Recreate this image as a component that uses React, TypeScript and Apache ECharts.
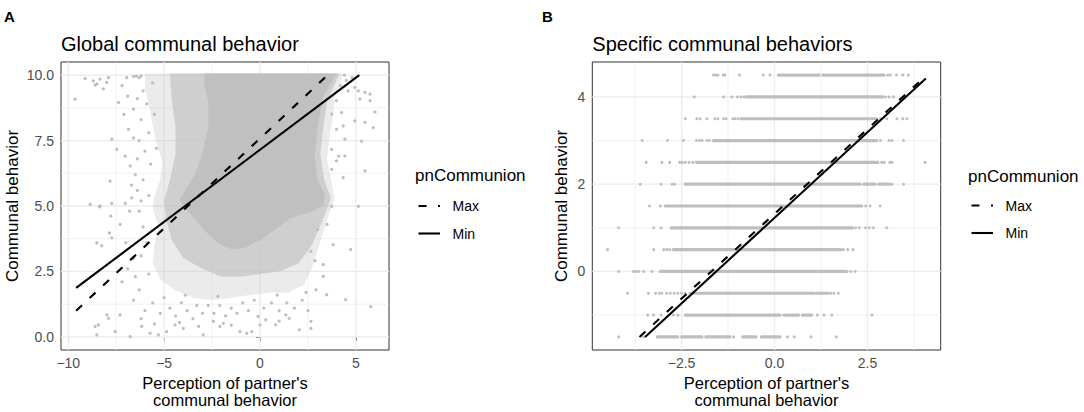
import React, { useEffect, useRef } from 'react';
import * as echarts from 'echarts';

const FONT = "'Liberation Sans', Arial, Helvetica, sans-serif";
const POINT = '#BEBEBE';

// ---------- Panel A: Global communal behavior ----------
const aXRange = [-10.38, 6.73];
const aYRange = [-0.5, 10.5];
const aXTicks = [-10, -5, 0, 5];
const aXMinor = [-7.5, -2.5, 2.5];
const aYTicks = [0, 2.5, 5, 7.5, 10];
const aYMinor = [1.25, 3.75, 6.25, 8.75];

const aLineMax = [[-9.59, 1.0], [3.53, 10.0]];
const aLineMin = [[-9.59, 1.87], [5.18, 10.0]];

// dense (solid) core of the point cloud
const aCore = [
  [-2.9, 10.06], [4.0, 10.06], [3.7, 9.7], [3.3, 9.2], [3.05, 8.2], [2.85, 7.0], [3.0, 6.0],
  [3.4, 5.4], [3.3, 5.0], [2.6, 4.75], [1.6, 4.55], [0.8, 4.1], [0.0, 3.7], [-0.8, 3.4],
  [-1.5, 3.35], [-2.2, 3.6], [-2.8, 4.0], [-3.4, 4.5], [-3.9, 4.9], [-4.2, 5.25], [-3.9, 5.6],
  [-3.4, 6.2], [-3.0, 7.0], [-2.7, 8.0], [-2.7, 9.0], [-2.9, 9.6],
];
// thick stipple next to the core
const aInner = [
  [-4.7, 10.06], [4.15, 10.06], [3.5, 9.0], [3.3, 8.0], [3.15, 7.0], [3.35, 6.0], [3.7, 5.3],
  [3.3, 4.5], [2.7, 3.5], [2.0, 2.8], [1.0, 2.5], [0.0, 2.4], [-1.0, 2.3], [-2.0, 2.3],
  [-3.0, 2.6], [-4.0, 3.0], [-4.6, 3.7], [-4.9, 4.5], [-5.0, 5.2], [-4.7, 6.0], [-4.4, 7.0],
  [-4.4, 8.0], [-4.6, 9.0],
];
// thin stipple at the edge of the cloud
const aOuter = [
  [-6.0, 10.06], [4.3, 10.06], [4.2, 9.6], [3.9, 9.2], [3.8, 8.4], [3.6, 7.5], [3.5, 6.8],
  [3.7, 6.0], [3.9, 5.3], [3.6, 4.7], [3.3, 4.0], [3.0, 3.3], [2.7, 2.6], [2.3, 2.0], [1.5, 1.7],
  [0.5, 1.7], [-0.5, 1.6], [-1.5, 1.5], [-2.5, 1.4], [-3.5, 1.5], [-4.5, 1.8], [-5.2, 2.2],
  [-5.6, 2.8], [-5.5, 3.5], [-5.3, 4.2], [-5.6, 4.9], [-5.5, 5.4], [-5.2, 6.0], [-5.1, 6.7],
  [-5.4, 7.4], [-5.6, 8.1], [-5.8, 8.9], [-6.0, 9.5],
];
// individual points outside the dense cloud
const aPoints = [
  [-9.65, 9.08], [-9.12, 9.87], [-8.69, 9.78], [-8.6, 9.62], [-8.51, 9.66], [-8.34, 9.85], [-8.17, 9.47],
  [-8.0, 9.72], [-7.9, 9.9], [-7.38, 8.95], [-7.73, 7.55], [-7.47, 7.16], [-7.82, 5.95], [-7.03, 6.9],
  [-6.77, 6.53], [-6.86, 7.93], [-7.1, 8.5], [-6.9, 9.2], [-7.2, 9.6], [-6.95, 9.9], [-6.6, 8.7],
  [-6.6, 7.6], [-6.5, 6.2], [-6.7, 5.8], [-8.86, 5.06], [-8.34, 5.0], [-7.73, 5.1], [-7.03, 5.1],
  [-6.69, 5.31], [-6.4, 5.6],
  [-6.3, 9.9], [-6.1, 9.4], [-5.9, 8.9], [-6.2, 8.3], [-5.8, 7.8], [-6.0, 7.1], [-5.7, 6.6],
  [-6.1, 6.0], [-5.8, 5.4], [-6.3, 4.8], [-6.1, 4.2], [-5.9, 3.6], [-6.2, 3.1], [-5.8, 2.4],
  [-5.6, 9.7], [-5.5, 8.5], [-5.4, 7.2], [-6.4, 9.1], [-6.3, 7.5], [-6.4, 6.8], [-6.2, 5.2],
  [-6.6, 9.95], [-6.45, 9.96], [-6.2, 9.97],
  [4.6, 9.4], [4.95, 9.53], [5.13, 9.4], [5.48, 9.34], [5.74, 9.27], [5.74, 9.02], [6.0, 8.59],
  [5.91, 7.99], [5.48, 8.19], [5.3, 7.48], [4.95, 8.25], [4.43, 7.55], [4.34, 8.06], [4.26, 8.57],
  [3.99, 9.02], [5.21, 9.08], [3.74, 8.51], [3.99, 7.93], [3.74, 7.16], [4.43, 6.91], [3.99, 6.72],
  [3.74, 6.4], [4.34, 6.08], [5.48, 6.34], [5.13, 4.99], [3.74, 4.99], [4.1, 6.9], [4.2, 9.6],
  [4.5, 9.8], [4.8, 9.9], [4.4, 10.0],
  [-8.37, 4.97], [-7.78, 4.61], [-8.51, 3.59], [-8.26, 3.49], [-7.85, 3.97], [-7.73, 3.78],
  [-7.3, 4.3], [-7.0, 3.6], [-6.8, 4.8], [-6.6, 3.0], [-6.9, 2.6], [-7.2, 2.1], [-6.5, 2.3],
  [-6.3, 1.8], [-6.6, 1.4], [-8.6, 0.4], [-8.51, 0.08], [-8.43, 0.46], [-7.99, 0.84], [-7.9, 0.71],
  [-7.56, 0.2], [-7.3, 0.84], [-6.77, 0.01], [-6.17, 0.4], [-5.73, 0.14], [-5.3, 0.08], [-4.87, 0.2],
  [-4.43, 0.46], [-4.0, 0.33], [-2.96, 0.08], [-2.43, 0.59], [-2.09, 0.4], [-1.91, 0.52], [-1.04, 0.2],
  [-0.69, 0.14], [-0.43, 0.2], [-0.1, 0.78], [0.0, 0.46], [0.3, 0.65], [0.82, 0.46], [1.35, 0.84],
  [1.52, 0.71], [2.05, 0.27], [2.66, 0.59], [2.66, 0.33], [2.92, 1.8], [3.48, 1.61], [3.3, 2.31],
  [3.3, 2.76], [2.87, 2.91], [2.66, 3.27], [3.82, 3.52], [4.73, 3.33], [4.47, 1.42], [5.78, 1.16],
  [3.0, 4.1], [3.5, 4.3],
  [-6.0, 1.0], [-5.6, 1.3], [-5.2, 0.9], [-5.0, 1.5], [-4.7, 1.1], [-4.4, 0.8], [-4.1, 1.3],
  [-3.8, 1.0], [-3.5, 0.7], [-3.3, 1.2], [-3.0, 0.9], [-2.7, 1.2], [-2.4, 0.9], [-2.1, 1.2],
  [-1.8, 0.8], [-1.5, 1.1], [-1.2, 0.9], [-0.9, 1.3], [-0.6, 1.0], [-0.3, 1.4], [0.2, 1.1],
  [0.6, 1.3], [1.0, 1.0], [1.4, 1.3], [1.8, 1.1], [2.2, 1.4], [2.5, 1.0], [-5.5, 0.5], [-4.2, 0.55],
  [-3.2, 0.4], [-1.5, 0.45], [1.0, 0.6], [-6.2, 0.7], [-3.9, 1.6], [-2.2, 1.55], [0.9, 1.6], [2.4, 1.7],
];

// ---------- Panel B: Specific communal behaviors ----------
const bXRange = [-4.9, 4.47];
const bYRange = [-1.8, 4.8];
const bXTicks = [-2.5, 0, 2.5];
const bXMinor = [-3.75, -1.25, 1.25, 3.75];
const bYTicks = [0, 2, 4];
const bYMinor = [-1, 1, 3];

const bLineMax = [[-3.63, -1.5], [4.03, 4.45]];
const bLineMin = [[-3.48, -1.5], [4.07, 4.42]];

const bRowY = [4.5, 4, 3.5, 3, 2.5, 2, 1.5, 1, 0.5, 0, -0.5, -1, -1.5];
// dense runs of points on each row: [from, to]
const bRowRuns = [
  [[0.1, 1.2], [1.3, 2.95]],
  [[-0.75, 2.9]],
  [[-0.9, 2.75]],
  [[-1.64, 2.75]],
  [[-2.1, 2.78]],
  [[-2.4, 2.3], [2.4, 2.7], [2.8, 3.05]],
  [[-2.94, 2.35]],
  [[-2.78, 2.1]],
  [[-2.72, 1.78]],
  [[-3.07, 1.9]],
  [[-2.27, 1.05], [1.12, 1.45]],
  [[-2.4, 0.15], [0.25, 0.65], [0.75, 1.0]],
  [[-3.15, -2.6], [-2.5, -1.95], [-1.85, -1.2], [-0.85, -0.5], [-0.35, 0.15]],
];
// isolated points on each row
const bRowSparse = [
  [-1.64, -1.58, -1.52, -1.38, -1.33, -0.94, -0.3, -0.12, 3.05, 3.12, 3.28, 3.45, 3.6],
  [-2.16, -1.37, -1.15, -1.0, -0.9, -0.82, 2.98, 3.08, 3.2],
  [-2.4, -2.09, -2.0, -1.82, -1.6, -1.52, -1.37, -1.3, -1.12, -1.06, -0.98, 2.85, 3.02, 3.29, 3.45, 3.56],
  [-3.56, -2.88, -2.45, -2.1, -2.02, -1.95, -1.82, -1.75, 2.85, 3.08, 3.16, 3.47],
  [-3.45, -3.03, -2.82, -2.55, -2.48, -2.4, -2.3, -2.2, 2.88, 2.95, 3.1, 3.16, 4.05],
  [-3.61, -3.05, -2.75, -2.68, 3.1, 3.16, 3.47],
  [-3.36, -3.07, 2.45, 2.57, 2.84],
  [-4.19, -3.25, -3.05, 2.18, 2.28, 2.45, 2.55, 2.66, 3.02],
  [-4.49, -3.25, -2.98, -2.9, -2.82, 1.85, 1.97, 2.11],
  [-4.19, -3.79, -3.72, -3.65, -3.52, -3.3, 1.95, 2.05, 2.17],
  [-3.95, -3.39, -3.2, -3.1, -3.03, -2.9, -2.8, -2.7, -2.6, -2.5, -2.4, 1.52, 1.6, 1.72],
  [-3.41, -3.25, -3.05, -2.72, -2.6, 1.15, 1.33, 1.54, 2.62],
  [-4.19, -3.52, -1.1, -0.7, 0.35, 0.53, 0.98, 1.66],
];

const legendTitle = 'pnCommunion';
const legendNames = ['Max', 'Min'];

const fmt = (d: number) => (v: number) => Number(v).toFixed(d).replace('-', '\u2212');

function xAxisOf(gi: number, range: number[], ticks: number[], dec: number) {
  return {
    type: 'value', gridIndex: gi, min: range[0], max: range[1], position: 'bottom',
    axisLine: { show: false }, splitLine: { show: false },
    axisTick: { show: true, length: 4, customValues: ticks, lineStyle: { color: '#333333', width: 1 } },
    axisLabel: { customValues: ticks, formatter: fmt(dec), margin: 6, color: '#4D4D4D', fontSize: 14, fontFamily: FONT },
  };
}
function yAxisOf(gi: number, range: number[], ticks: number[], dec: number) {
  return {
    type: 'value', gridIndex: gi, min: range[0], max: range[1], position: 'left',
    axisLine: { show: false }, splitLine: { show: false },
    axisTick: { show: true, length: 4, customValues: ticks, lineStyle: { color: '#333333', width: 1 } },
    axisLabel: { customValues: ticks, formatter: fmt(dec), margin: 7, color: '#4D4D4D', fontSize: 14, fontFamily: FONT },
  };
}

function gridLines(idx: number, xMajor: number[], xMinor: number[], yMajor: number[], yMinor: number[]) {
  const data = [
    ...xMajor.map((v) => [0, v, 1]), ...xMinor.map((v) => [0, v, 0]),
    ...yMajor.map((v) => [1, v, 1]), ...yMinor.map((v) => [1, v, 0]),
  ];
  return {
    type: 'custom', xAxisIndex: idx, yAxisIndex: idx, z: 1, silent: true, data,
    renderItem: (params: any, api: any) => {
      const o = api.value(0), v = api.value(1), m = api.value(2);
      const cs = params.coordSys;
      const style = { stroke: '#EBEBEB', lineWidth: m ? 1.3 : 0.7 };
      if (o === 0) {
        const px = api.coord([v, 0])[0];
        return { type: 'line', shape: { x1: px, y1: cs.y, x2: px, y2: cs.y + cs.height }, style };
      }
      const py = api.coord([0, v])[1];
      return { type: 'line', shape: { x1: cs.x, y1: py, x2: cs.x + cs.width, y2: py }, style };
    },
  };
}

function polygonSeries(poly: number[][], fill: string, opacity: number) {
  return {
    type: 'custom', xAxisIndex: 0, yAxisIndex: 0, z: 2, silent: true, data: [[0, 5]],
    renderItem: (_p: any, api: any) => ({
      type: 'polygon',
      shape: { points: poly.map((pt) => api.coord(pt)) },
      style: { fill, opacity },
    }),
  };
}

function regLine(idx: number, data: number[][], dashed: boolean, name: string) {
  return {
    type: 'line', name, xAxisIndex: idx, yAxisIndex: idx, data, symbol: 'none', showSymbol: false,
    silent: true, z: 5,
    lineStyle: { color: '#000000', width: 2.1, type: dashed ? [8, 10.5] : 'solid' },
  };
}

function legendGraphics(x0: number, titleY: number, rowY: number[]) {
  return [
    { type: 'text', x: x0, y: titleY, style: { text: legendTitle, fill: '#000', fontSize: 17, fontFamily: FONT, align: 'left', verticalAlign: 'middle' } },
    { type: 'line', shape: { x1: x0 + 3.5, y1: rowY[0], x2: x0 + 25, y2: rowY[0] }, style: { stroke: '#000', lineWidth: 2.1, lineDash: [8, 11.5] } },
    { type: 'line', shape: { x1: x0 + 3.5, y1: rowY[1], x2: x0 + 25, y2: rowY[1] }, style: { stroke: '#000', lineWidth: 2.1 } },
    { type: 'text', x: x0 + 37.5, y: rowY[0], style: { text: legendNames[0], fill: '#000', fontSize: 14, fontFamily: FONT, align: 'left', verticalAlign: 'middle' } },
    { type: 'text', x: x0 + 37.5, y: rowY[1], style: { text: legendNames[1], fill: '#000', fontSize: 14, fontFamily: FONT, align: 'left', verticalAlign: 'middle' } },
  ];
}

function txt(text: string, x: number, y: number, size: number, extra: any = {}) {
  return {
    type: 'text', x, y, rotation: extra.rotation || 0,
    style: {
      text, fill: '#000', fontSize: size, fontFamily: FONT, fontWeight: extra.bold ? 'bold' : 'normal',
      align: extra.align || 'left', verticalAlign: 'middle', lineHeight: extra.lineHeight,
    },
  };
}

export default function App() {
  const ref = useRef<HTMLDivElement>(null);
  useEffect(() => {
    if (!ref.current) return;
    const chart = echarts.init(ref.current, null, { renderer: 'svg' });

    const bSegData: number[][] = [];
    bRowY.forEach((y, i) => bRowRuns[i].forEach((r) => bSegData.push([r[0], r[1], y])));
    const bPointData: number[][] = [];
    bRowY.forEach((y, i) => bRowSparse[i].forEach((x) => bPointData.push([x, y])));

    const xTitle = "Perception of partner's\ncommunal behavior";

    const option: any = {
      animation: false,
      backgroundColor: '#ffffff',
      textStyle: { fontFamily: FONT },
      grid: [
        { left: 61, top: 62, width: 328, height: 288, show: true, borderColor: '#333333', borderWidth: 1, backgroundColor: '#ffffff', containLabel: false, outerBoundsMode: 'none' },
        { left: 592.3, top: 62, width: 348.4, height: 288, show: true, borderColor: '#333333', borderWidth: 1, backgroundColor: '#ffffff', containLabel: false, outerBoundsMode: 'none' },
      ],
      xAxis: [xAxisOf(0, aXRange, aXTicks, 0), xAxisOf(1, bXRange, bXTicks, 1)],
      yAxis: [yAxisOf(0, aYRange, aYTicks, 1), yAxisOf(1, bYRange, bYTicks, 0)],
      series: [
        gridLines(0, aXTicks, aXMinor, aYTicks, aYMinor),
        polygonSeries(aOuter, POINT, 0.3),
        polygonSeries(aInner, POINT, 0.62),
        polygonSeries(aCore, '#C0C0C0', 1),
        { type: 'scatter', xAxisIndex: 0, yAxisIndex: 0, data: aPoints, symbolSize: 3.2, itemStyle: { color: POINT, opacity: 1 }, z: 3, silent: true },
        regLine(0, aLineMax, true, 'Max'),
        regLine(0, aLineMin, false, 'Min'),

        gridLines(1, bXTicks, bXMinor, bYTicks, bYMinor),
        {
          type: 'custom', xAxisIndex: 1, yAxisIndex: 1, z: 2, silent: true, data: bSegData,
          encode: { x: [0, 1], y: 2 },
          renderItem: (_p: any, api: any) => {
            const y = api.value(2);
            const p1 = api.coord([api.value(0), y]);
            const p2 = api.coord([api.value(1), y]);
            return { type: 'line', shape: { x1: p1[0], y1: p1[1], x2: p2[0], y2: p2[1] }, style: { stroke: POINT, lineWidth: 3.2, lineCap: 'round' } };
          },
        },
        { type: 'scatter', xAxisIndex: 1, yAxisIndex: 1, data: bPointData, symbolSize: 3, itemStyle: { color: POINT, opacity: 1 }, z: 3, silent: true },
        regLine(1, bLineMax, true, 'Max'),
        regLine(1, bLineMin, false, 'Min'),
      ],
      graphic: [
        txt('A', 4, 16.5, 15, { bold: true }),
        txt('B', 542, 16.5, 15, { bold: true }),
        txt('Global communal behavior', 61, 43.7, 20),
        txt('Specific communal behaviors', 592.3, 43.7, 20),
        txt('Communal behavior', 12, 206, 17, { rotation: Math.PI / 2, align: 'center' }),
        txt('Communal behavior', 561.7, 206, 17, { rotation: Math.PI / 2, align: 'center' }),
        txt(xTitle, 225, 391, 16.5, { align: 'center', lineHeight: 17 }),
        txt(xTitle, 766.5, 391, 16.5, { align: 'center', lineHeight: 17 }),
        ...legendGraphics(415, 175.5, [206, 233.5]),
        ...legendGraphics(968, 176, [205.5, 233]),
      ],
    };
    chart.setOption(option);
    return () => chart.dispose();
  }, []);
  return (
    <div
      ref={ref}
      style={{ position: 'fixed', left: 0, top: 0, width: '1084px', height: '412px', background: '#ffffff' }}
    />
  );
}
